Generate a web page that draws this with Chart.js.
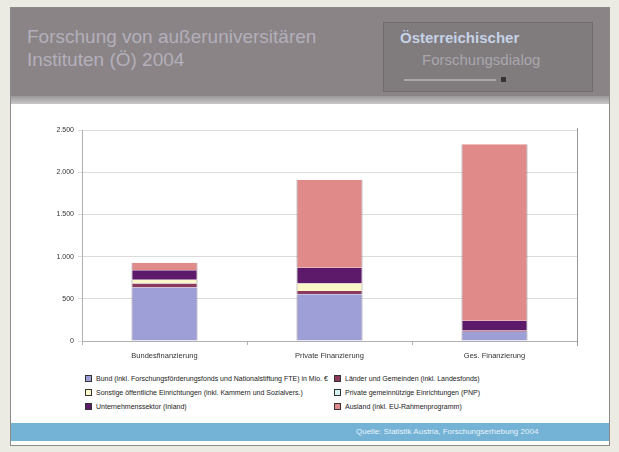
<!DOCTYPE html>
<html lang="de">
<head>
<meta charset="utf-8">
<title>Forschung von außeruniversitären Instituten</title>
<script src="https://cdn.jsdelivr.net/npm/chart.js@4/dist/chart.umd.min.js"></script>
<style>
  body{margin:0;background:#ecebe3;font-family:"Liberation Sans",Arial,sans-serif;}
  #folie{position:absolute;left:10px;top:7px;width:598px;height:437px;background:#fff;border:1px solid #8e8a8a;overflow:hidden;}
  #kopf{position:absolute;left:0;top:0;width:598px;height:90px;background:#8a8486;}
  #kopfleiste{position:absolute;left:0;top:88px;width:598px;height:8px;background:linear-gradient(#9c9899,#c9c7c7);}
  #titel{position:absolute;left:16px;top:17px;font-size:19px;line-height:23px;color:#b3afbb;}
  #logo{position:absolute;left:372px;top:14px;width:208px;height:68px;background:#807b7d;border:1px solid #706b6c;}
  #logo .z1{position:absolute;left:16px;top:6px;font-size:15px;font-weight:bold;color:#c6d2e6;}
  #logo .z2{position:absolute;left:38px;top:28px;font-size:15px;color:#a9a7ad;}
  #logo .strich{position:absolute;left:20px;top:56px;width:92px;height:2px;background:#aaa6aa;}
  #logo .punkt{position:absolute;left:117px;top:54px;width:5px;height:5px;background:#333;}
  #chartBox{position:absolute;left:2px;top:104px;width:594px;height:254px;}
  #legende{position:absolute;left:74px;top:366px;width:500px;font-size:7px;color:#222;}
  .lg{position:absolute;white-space:nowrap;line-height:9px;}
  .lg i{display:inline-block;width:5px;height:5px;border:1px solid #333;margin-right:4px;vertical-align:-1px;}
  #fuss{position:absolute;left:0;top:415px;width:598px;height:18px;background:#74b3d6;}
  #fuss span{position:absolute;left:345px;top:4px;font-size:8px;color:#e8f2f8;}
</style>
</head>
<body>
<div id="folie">
  <div id="kopf">
    <div id="titel">Forschung von außeruniversitären<br>Instituten (Ö) 2004</div>
    <div id="logo">
      <div class="z1">Österreichischer</div>
      <div class="z2">Forschungsdialog</div>
      <div class="strich"></div><div class="punkt"></div>
    </div>
  </div>
  <div id="kopfleiste"></div>
  <div id="chartBox"><canvas id="forschungChart"></canvas></div>
  <div id="legende"></div>
  <div id="fuss"><span>Quelle: Statistik Austria, Forschungserhebung 2004</span></div>
</div>

<script>
/* =========================
   DATEN (Mio. €)
========================= */
const kategorien = ['Bundesfinanzierung', 'Private Finanzierung', 'Ges. Finanzierung'];

const serienNamen = [
  'Bund (inkl. Forschungsförderungsfonds und Nationalstiftung FTE) in Mio. €',
  'Länder und Gemeinden (inkl. Landesfonds)',
  'Sonstige öffentliche Einrichtungen (inkl. Kammern und Sozialvers.)',
  'Private gemeinnützige Einrichtungen (PNP)',
  'Unternehmenssektor (Inland)',
  'Ausland (inkl. EU-Rahmenprogramm)'
];

const bundWerte        = [633, 554, 110];
const laenderWerte     = [47, 39, 15];
const sonstigeWerte    = [47, 87, 0];
const privatWerte      = [0, 0, 0];
const unternehmenWerte = [110, 189, 115];
const auslandWerte     = [91, 1041, 2090];

const yTicks = [0, 500, 1000, 1500, 2000, 2500];

const farben = ['#9d9fd6', '#8c3a5c', '#fbf7c8', '#d4f4f4', '#5e1a6a', '#e08a8a'];

/* =========================
   CHART
========================= */
const werte = [bundWerte, laenderWerte, sonstigeWerte, privatWerte, unternehmenWerte, auslandWerte];

const rechterRand = {
  id: 'rechterRand',
  afterDraw(chart){
    const a = chart.chartArea;
    const c = chart.ctx;
    c.save();
    c.strokeStyle = '#9a9a9a';
    c.lineWidth = 1;
    c.beginPath();
    c.moveTo(a.right + 0.5, a.top - 2);
    c.lineTo(a.right + 0.5, a.bottom + 5);
    c.stroke();
    c.restore();
  }
};

const chartF = new Chart(document.getElementById('forschungChart'), {
  type: 'bar',
  data: {
    labels: kategorien,
    datasets: werte.map((w, i) => ({
      label: serienNamen[i],
      data: w,
      backgroundColor: farben[i],
      borderColor: 'rgba(60,40,60,0.55)',
      borderWidth: {left:1, right:1, top:0, bottom:0},
      borderSkipped: false,
      barPercentage: 0.4,
      categoryPercentage: 1
    }))
  },
  options: {
    responsive: true,
    maintainAspectRatio: false,
    animation: false,
    layout: {padding: {top: 18, right: 30, left: 0, bottom: 0}},
    plugins: {legend: {display: false}, tooltip: {enabled: false}},
    scales: {
      x: {
        stacked: true,
        grid: {offset: true, drawOnChartArea: false, tickLength: 4, color: '#b0b0b0'},
        border: {color: '#b0b0b0'},
        ticks: {font: {size: 7.5, family: 'Liberation Sans'}, color: '#333', padding: 6}
      },
      y: {
        stacked: true,
        min: 0,
        max: 2500,
        afterBuildTicks: s => { s.ticks = yTicks.map(v => ({value: v})); },
        afterFit: s => { s.width = 69; },
        grid: {color: '#dcdcdc', tickLength: 4},
        border: {color: '#b0b0b0'},
        ticks: {
          font: {size: 7, family: 'Liberation Sans'},
          color: '#333',
          padding: 4,
          callback: v => v.toLocaleString('de-DE')
        }
      }
    }
  },
  plugins: [rechterRand]
});

/* =========================
   LEGENDE (2 Spalten)
========================= */
const legende = document.getElementById('legende');
chartF.data.datasets.forEach((ds, i) => {
  const el = document.createElement('div');
  el.className = 'lg';
  el.style.left = (i % 2 === 0 ? 0 : 249) + 'px';
  el.style.top = (Math.floor(i / 2) * 14) + 'px';
  el.innerHTML = '<i style="background:' + ds.backgroundColor + '"></i>' + ds.label;
  legende.appendChild(el);
});
</script>
</body>
</html>
